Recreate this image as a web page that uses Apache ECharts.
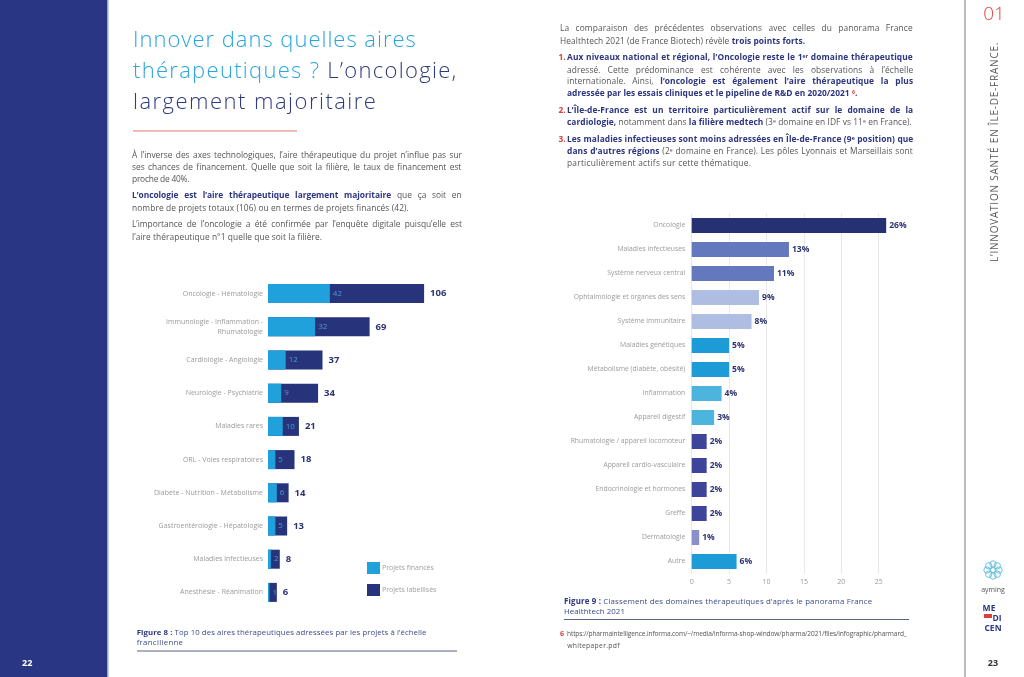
<!DOCTYPE html>
<html><head><meta charset="utf-8">
<script src="https://cdn.jsdelivr.net/npm/echarts@6/dist/echarts.min.js"></script>
<style>
html,body{margin:0;padding:0;background:#fff;}
#wrap{position:relative;width:1024px;height:677px;overflow:hidden;background:#fff;}
#chart{position:absolute;left:0;top:0;width:1024px;height:677px;}
.ln{position:absolute;white-space:nowrap;font-family:"Open Sans",sans-serif;color:#555;line-height:1.2;}
.ln b{font-weight:700;color:#2d3580;}
.r{color:#d9423a;font-weight:700;}
sup{font-size:0.62em;vertical-align:0;position:relative;top:-0.45em;}
.tt{position:absolute;white-space:nowrap;font-family:"Open Sans",sans-serif;font-weight:300;line-height:1;font-size:22px;}
.lb{color:#2aa6de;}
.nv{color:#2f3b7f;}
.cap{color:#3d4a8a;}
.cap b{color:#2d3580;}
</style></head>
<body>
<div id="wrap">
<div id="chart"></div>

<div class="tt lb" data-b="46" style="left:133px" data-w="283.5" data-m="ls">Innover dans quelles aires</div>
<div class="tt" data-b="77.5" style="left:133px" data-w="324.5" data-m="ls"><span class="lb">thérapeutiques ?</span> <span class="nv">L’oncologie,</span></div>
<div class="tt nv" data-b="108.5" style="left:133px" data-w="244" data-m="ls">largement majoritaire</div>

<div class="ln" data-g="L" data-c="155.7" data-fs="8.4" style="left:132px" data-w="329.5" data-m="ws">À l’inverse des axes technologiques, l’aire thérapeutique du projet n’influe pas sur</div>
<div class="ln" data-g="L" data-c="167.7" data-fs="8.4" style="left:132px" data-w="329.5" data-m="ws">ses chances de financement. Quelle que soit la filière, le taux de financement est</div>
<div class="ln" data-g="L" data-c="180" data-fs="8.4" style="left:132px" data-w="57" data-m="ls">proche de 40%.</div>
<div class="ln" data-g="L" data-c="196" data-fs="8.4" style="left:132px" data-w="329.5" data-m="ws"><b>L’oncologie est l’aire thérapeutique largement majoritaire</b> que ça soit en</div>
<div class="ln" data-g="L" data-c="209.3" data-fs="8.4" style="left:132px" data-w="277" data-m="ls">nombre de projets totaux (106) ou en termes de projets financés (42).</div>
<div class="ln" data-g="L" data-c="225.3" data-fs="8.4" style="left:132px" data-w="329.5" data-m="ws">L’importance de l’oncologie a été confirmée par l’enquête digitale puisqu’elle est</div>
<div class="ln" data-g="L" data-c="238.3" data-fs="8.4" style="left:132px" data-w="190" data-m="ls">l’aire thérapeutique n°1 quelle que soit la filière.</div>

<div class="ln" data-g="R" data-c="29" data-fs="8.4" style="left:560px" data-w="353" data-m="ws">La comparaison des précédentes observations avec celles du panorama France</div>
<div class="ln" data-g="R" data-c="41.7" data-fs="8.4" style="left:560px" data-w="245.7" data-m="ls">Healthtech 2021 (de France Biotech) révèle <b>trois points forts.</b></div>
<div class="ln r" data-c="58.3" data-fs="8.4" style="left:558.5px">1.</div>
<div class="ln" data-g="R" data-c="58.3" data-fs="8.4" style="left:567px" data-w="346" data-m="ws"><b>Aux niveaux national et régional, l’Oncologie reste le 1<sup>er</sup> domaine thérapeutique</b></div>
<div class="ln" data-g="R" data-c="70.7" data-fs="8.4" style="left:567px" data-w="346" data-m="ws">adressé. Cette prédominance est cohérente avec les observations à l’échelle</div>
<div class="ln" data-g="R" data-c="82.3" data-fs="8.4" style="left:567px" data-w="346" data-m="ws">internationale. Ainsi, <b>l’oncologie est également l’aire thérapeutique la plus</b></div>
<div class="ln" data-g="R" data-c="94.3" data-fs="8.4" style="left:567px" data-w="290" data-m="ls"><b>adressée par les essais cliniques et le pipeline de R&amp;D en 2020/2021 <sup class="r">6</sup>.</b></div>
<div class="ln r" data-c="111" data-fs="8.4" style="left:558.5px">2.</div>
<div class="ln" data-g="R" data-c="111" data-fs="8.4" style="left:567px" data-w="346" data-m="ws"><b>L’Île-de-France est un territoire particulièrement actif sur le domaine de la</b></div>
<div class="ln" data-g="R" data-c="123.3" data-fs="8.4" style="left:567px" data-w="345" data-m="ls"><b>cardiologie,</b> notamment dans <b>la filière medtech</b> (3<sup>e</sup> domaine en IDF vs 11<sup>e</sup> en France).</div>
<div class="ln r" data-c="140" data-fs="8.4" style="left:558.5px">3.</div>
<div class="ln" data-g="R" data-c="140" data-fs="8.4" style="left:567px" data-w="346" data-m="ws"><b>Les maladies infectieuses sont moins adressées en Île-de-France (9<sup>e</sup> position) que</b></div>
<div class="ln" data-g="R" data-c="152.3" data-fs="8.4" style="left:567px" data-w="346" data-m="ws"><b>dans d’autres régions</b> (2<sup>e</sup> domaine en France). Les pôles Lyonnais et Marseillais sont</div>
<div class="ln" data-g="R" data-c="164" data-fs="8.4" style="left:567px" data-w="184.3" data-m="ls">particulièrement actifs sur cette thématique.</div>

<div class="ln cap" data-c="634" data-fs="7.8" style="left:136.7px" data-w="290" data-m="ls"><b>Figure 8 :</b> Top 10 des aires thérapeutiques adressées par les projets à l’échelle</div>
<div class="ln cap" data-c="643.3" data-fs="7.8" style="left:136.7px" data-w="46.7" data-m="ls">francilienne</div>
<div class="ln cap" data-c="602.7" data-fs="7.9" style="left:564px" data-w="308" data-m="ls"><b>Figure 9 :</b> Classement des domaines thérapeutiques d’après le panorama France</div>
<div class="ln cap" data-c="612.3" data-fs="7.9" style="left:564px" data-w="60.7" data-m="ls">Healthtech 2021</div>
<div class="ln r" data-c="634.3" data-fs="7.2" style="left:560px">6</div>
<div class="ln" data-c="634.3" data-fs="6.6" style="left:567px" data-w="339.7" data-m="ls">https://pharmaintelligence.informa.com/~/media/informa-shop-window/pharma/2021/files/infographic/pharmard_</div>
<div class="ln" data-c="646.5" data-fs="6.8" style="left:567.3px" data-w="52" data-m="ls">whitepaper.pdf</div>

<div id="vt" class="tt" style="left:988px;top:262px;font-size:10px;color:#5e5e5e;line-height:12px;font-weight:400;" data-w="220" data-m="ls">L’INNOVATION SANTÉ EN ÎLE-DE-FRANCE.</div>
</div>

<script>
// ---------- DATA ----------
const leftCategories = ['Oncologie - Hématologie', 'Immunologie - Inflammation -\nRhumatologie', 'Cardiologie - Angiologie', 'Neurologie - Psychiatrie', 'Maladies rares', 'ORL - Voies respiratoires', 'Diabète - Nutrition - Métabolisme', 'Gastroentérologie - Hépatologie', 'Maladies infectieuses', 'Anesthésie - Réanimation'];
const leftFinanced = [42, 32, 12, 9, 10, 5, 6, 5, 2, 1];
const leftLabelled = [106, 69, 37, 34, 21, 18, 14, 13, 8, 6];
const leftLegend = ['Projets financés', 'Projets labellisés'];

const rightCategories = ['Oncologie', 'Maladies infectieuses', 'Système nerveux central', 'Ophtalmologie et organes des sens', 'Système immunitaire', 'Maladies génétiques', 'Métabolisme (diabète, obésité)', 'Inflammation', 'Appareil digestif', 'Rhumatologie / appareil locomoteur', 'Appareil cardio-vasculaire', 'Endocrinologie et hormones', 'Greffe', 'Dermatologie', 'Autre'];
const rightValues = [26, 13, 11, 9, 8, 5, 5, 4, 3, 2, 2, 2, 2, 1, 6];
const rightTicks = [0, 5, 10, 15, 20, 25];

// ---------- STYLES ----------
const rightColors = ['#253172', '#6378bd', '#6378bd', '#b0bde2', '#b0bde2', '#1d9bd7', '#1d9bd7', '#4db5dd', '#4db5dd', '#3c4599', '#3c4599', '#3c4599', '#3c4599', '#8a8fc7', '#1d9bd7'];
const NAVY = '#27337a', CYAN = '#21a1dc';

const chart = echarts.init(document.getElementById('chart'), null, {renderer: 'canvas'});

const flower = [];
for (let i = 0; i < 8; i++) {
  const a = i * Math.PI / 4;
  flower.push({type: 'circle', shape: {cx: 993 + 6 * Math.cos(a), cy: 570 + 6 * Math.sin(a), r: 3.2}, style: {fill: 'none', stroke: '#5bb8dd', lineWidth: 0.9}});
}
flower.push({type: 'circle', shape: {cx: 993, cy: 570, r: 2.5}, style: {fill: 'none', stroke: '#5bb8dd', lineWidth: 0.9}});

chart.setOption({
  animation: false,
  textStyle: {fontFamily: 'Open Sans'},
  grid: [
    {left: 268, top: 277, width: 162, height: 332},
    {left: 691.7, top: 213.5, width: 187, height: 360}
  ],
  xAxis: [
    {gridIndex: 0, type: 'value', min: 0, max: 110, show: false},
    {gridIndex: 1, type: 'value', min: rightTicks[0], max: rightTicks[rightTicks.length - 1], interval: rightTicks[1] - rightTicks[0],
      axisLine: {show: false}, axisTick: {show: false},
      axisLabel: {fontSize: 7, color: '#9a9a9a', margin: 5},
      splitLine: {show: true, lineStyle: {color: '#e8e8e8', width: 1}}}
  ],
  yAxis: [
    {gridIndex: 0, type: 'category', data: leftCategories, inverse: true,
      axisLine: {show: false}, axisTick: {show: false}, splitLine: {show: false},
      axisLabel: {interval: 0, fontSize: 7, color: '#9a9a9a', margin: 5, lineHeight: 9.5}},
    {gridIndex: 1, type: 'category', data: rightCategories, inverse: true,
      axisLine: {show: false}, axisTick: {show: false}, splitLine: {show: false},
      axisLabel: {interval: 0, fontSize: 6.8, color: '#9a9a9a', margin: 6.5}}
  ],
  legend: {
    data: [leftLegend[0], leftLegend[1]], orient: 'vertical', left: 362, top: 557,
    itemWidth: 13, itemHeight: 12, itemGap: 10, icon: 'rect',
    textStyle: {fontSize: 7, color: '#a0a0a0', padding: [0, 0, 0, -3]}
  },
  series: [
    {name: leftLegend[1], type: 'bar', xAxisIndex: 0, yAxisIndex: 0, data: leftLabelled, barWidth: 19, barGap: '-100%',
      itemStyle: {color: NAVY},
      label: {show: true, position: 'right', distance: 6, fontSize: 9.5, fontWeight: 'bold', color: '#2d3472'}},
    {name: leftLegend[0], type: 'bar', xAxisIndex: 0, yAxisIndex: 0, data: leftFinanced, barWidth: 19, barGap: '-100%',
      itemStyle: {color: CYAN},
      label: {show: true, position: 'right', distance: 3, fontSize: 8, color: '#4c9ad8'}},
    {type: 'bar', xAxisIndex: 1, yAxisIndex: 1, barWidth: 15, clip: false,
      data: rightValues.map((v, i) => ({value: v, itemStyle: {color: rightColors[i]}})),
      label: {show: true, position: 'right', distance: 3, formatter: '{c}%', fontSize: 8.5, fontWeight: 'bold', color: '#2d3472'}}
  ],
  graphic: [
    {type: 'rect', shape: {x: 0, y: 0, width: 107, height: 677}, style: {fill: '#283683'}, z: -10},
    {type: 'rect', shape: {x: 107, y: 0, width: 1.5, height: 677}, style: {fill: '#9aa0c0'}, z: -10},
    {type: 'text', x: 22, y: 663, style: {text: '22', fill: '#ffffff', font: 'bold 9px "Open Sans"', verticalAlign: 'middle'}},
    {type: 'line', shape: {x1: 965, y1: 0, x2: 965, y2: 677}, style: {stroke: '#a3a6ae', lineWidth: 1.5}},
    {type: 'text', x: 994, y: 15, style: {text: '01', fill: '#e2433a', font: '300 19px "Open Sans"', align: 'center', verticalAlign: 'middle'}},
    {type: 'line', shape: {x1: 133, y1: 131, x2: 297, y2: 131}, style: {stroke: '#e27a6c', lineWidth: 1}},
    {type: 'line', shape: {x1: 137, y1: 651, x2: 457, y2: 651}, style: {stroke: '#5b6183', lineWidth: 1}},
    {type: 'line', shape: {x1: 564, y1: 619.5, x2: 909, y2: 619.5}, style: {stroke: '#5b6183', lineWidth: 1}},
    {type: 'group', children: flower},
    {type: 'text', x: 993, y: 590, style: {text: 'ayming', fill: '#555', font: '7px "Open Sans"', align: 'center', verticalAlign: 'middle'}},
    {type: 'text', x: 989, y: 609, style: {text: 'ME', fill: '#2d3580', font: 'bold 8.5px "Open Sans"', align: 'center', verticalAlign: 'middle'}},
    {type: 'rect', shape: {x: 984, y: 614, width: 8, height: 4}, style: {fill: '#d9423a'}},
    {type: 'text', x: 997, y: 619, style: {text: 'DI', fill: '#2d3580', font: 'bold 8.5px "Open Sans"', align: 'center', verticalAlign: 'middle'}},
    {type: 'text', x: 993, y: 629, style: {text: 'CEN', fill: '#2d3580', font: 'bold 8.5px "Open Sans"', align: 'center', verticalAlign: 'middle'}},
    {type: 'text', x: 993, y: 663, style: {text: '23', fill: '#333', font: 'bold 9px "Open Sans"', align: 'center', verticalAlign: 'middle'}}
  ]
});

function layoutText() {
  document.querySelectorAll('.ln').forEach(el => {
    const fs = +el.dataset.fs;
    el.style.fontSize = fs + 'px';
    el.style.top = (+el.dataset.c - 0.72 * fs) + 'px';
  });
  document.querySelectorAll('.tt[data-b]').forEach(el => {
    el.style.top = (+el.dataset.b - 19.5) + 'px';
  });
  const all = Array.from(document.querySelectorAll('[data-w]'));
  const groupLs = {}, groupN = {};
  all.filter(el => el.dataset.m !== 'ws').forEach(el => {
    el.style.wordSpacing = '0px';
    el.style.letterSpacing = '0px';
    const w = el.offsetWidth, target = +el.dataset.w, n = el.textContent.length;
    const ls = (target - w) / n;
    el.style.letterSpacing = ls + 'px';
    const g = el.dataset.g;
    if (g) { groupLs[g] = (groupLs[g] || 0) + ls; groupN[g] = (groupN[g] || 0) + 1; }
  });
  all.filter(el => el.dataset.m === 'ws').forEach(el => {
    const g = el.dataset.g;
    const ls = g && groupN[g] ? groupLs[g] / groupN[g] : 0;
    el.style.letterSpacing = ls + 'px';
    el.style.wordSpacing = '0px';
    const w = el.offsetWidth, target = +el.dataset.w;
    const n = (el.textContent.match(/ /g) || []).length;
    if (n) el.style.wordSpacing = ((target - w) / n) + 'px';
  });
  const vt = document.getElementById('vt');
  vt.style.transformOrigin = '0 0';
  vt.style.transform = 'rotate(-90deg)';
}
layoutText();
if (document.fonts && document.fonts.ready) document.fonts.ready.then(layoutText);
</script>
</body></html>
